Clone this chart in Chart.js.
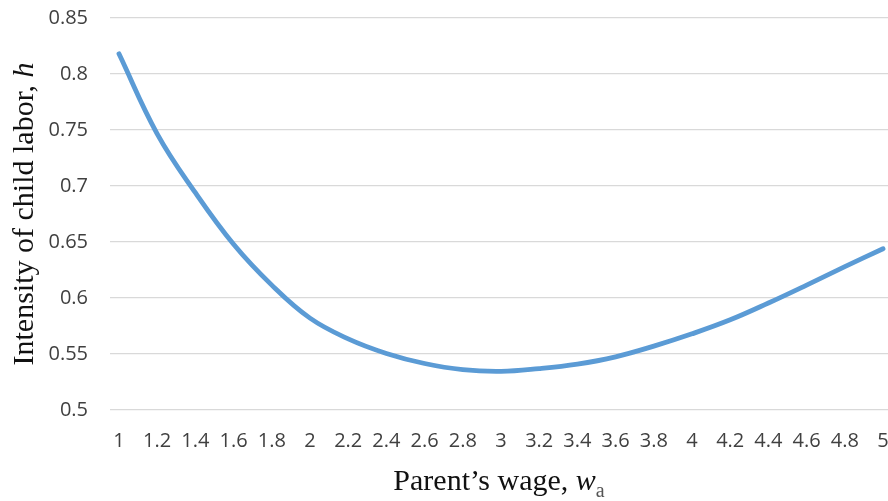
<!DOCTYPE html>
<html>
<head>
<meta charset="utf-8">
<script src="https://cdn.jsdelivr.net/npm/chart.js@4/dist/chart.umd.min.js"></script>
<style>
  html, body { margin: 0; padding: 0; background: #fff; }
  #wrap { width: 888px; height: 501px; }
</style>
</head>
<body>
<div id="wrap"><canvas id="laborchart"></canvas></div>
<script>
// parent's wage w_a and intensity of child labour h
const wages = [1, 1.2, 1.4, 1.6, 1.8, 2, 2.2, 2.4, 2.6, 2.8, 3, 3.2, 3.4, 3.6, 3.8, 4, 4.2, 4.4, 4.6, 4.8, 5];
const intensity = [0.818, 0.7466, 0.694, 0.648, 0.6115, 0.582, 0.5635, 0.5505, 0.5415, 0.536, 0.5345,
                   0.537, 0.541, 0.5475, 0.557, 0.568, 0.5805, 0.5955, 0.6115, 0.628, 0.644];
const xTicks = [1, 1.2, 1.4, 1.6, 1.8, 2, 2.2, 2.4, 2.6, 2.8, 3, 3.2, 3.4, 3.6, 3.8, 4, 4.2, 4.4, 4.6, 4.8, 5];
const yTicks = [0.5, 0.55, 0.6, 0.65, 0.7, 0.75, 0.8, 0.85];

const tickFont = { family: '"Open Sans", sans-serif', size: 20 };
const serif = '"Liberation Serif", "DejaVu Serif", serif';

// axis titles with italic symbols, drawn on the canvas
const axisTitles = {
    id: 'axisTitles',
    afterDraw(chart) {
        const c = chart.ctx;
        const area = chart.chartArea;
        c.save();
        c.fillStyle = '#111';
        c.textBaseline = 'alphabetic';
        c.textAlign = 'left';

        // y title, rotated
        const yMain = 'Intensity of child labor, ';
        c.font = '30px ' + serif;
        const w1 = c.measureText(yMain).width;
        c.font = 'italic 30px ' + serif;
        const w2 = c.measureText('h').width;
        c.save();
        c.translate(33, (area.top + area.bottom) / 2);
        c.rotate(-Math.PI / 2);
        const sx = -(w1 + w2) / 2;
        c.font = '30px ' + serif;
        c.fillText(yMain, sx, 0);
        c.font = 'italic 30px ' + serif;
        c.fillText('h', sx + w1, 0);
        c.restore();

        // x title
        const xMain = 'Parent\u2019s wage, ';
        c.font = '30px ' + serif;
        const a1 = c.measureText(xMain).width;
        c.font = 'italic 30px ' + serif;
        const a2 = c.measureText('w').width;
        c.font = '20px ' + serif;
        const a3 = c.measureText('a').width;
        const x0 = (area.left + area.right) / 2 - (a1 + a2 + a3) / 2;
        const base = 490;
        c.font = '30px ' + serif;
        c.fillText(xMain, x0, base);
        c.font = 'italic 30px ' + serif;
        c.fillText('w', x0 + a1, base);
        c.fillStyle = '#555';
        c.font = '20px ' + serif;
        c.fillText('a', x0 + a1 + a2, base + 7);
        c.restore();
    }
};

const ctx = document.getElementById('laborchart').getContext('2d');
const laborchart = new Chart(ctx, {
    type: 'line',
    data: {
        datasets: [{
            label: 'h',
            data: wages.map((w, i) => ({ x: w, y: intensity[i] })),
            borderColor: '#5b9bd5',
            borderWidth: 4.8,
            borderCapStyle: 'round',
            borderJoinStyle: 'round',
            tension: 0.4,
            pointRadius: 0,
            fill: false
        }]
    },
    options: {
        responsive: true,
        maintainAspectRatio: false,
        animation: false,
        layout: { padding: { top: 18, right: 0, bottom: 0, left: 0 } },
        plugins: {
            legend: { display: false },
            tooltip: { enabled: false }
        },
        scales: {
            x: {
                type: 'linear',
                min: 0.953,
                max: 5.026,
                afterBuildTicks: (scale) => { scale.ticks = xTicks.map(v => ({ value: v })); },
                afterFit: (scale) => {
                    scale.height = 91;
                    scale.paddingLeft = 0;
                    scale.paddingRight = 0;
                },
                grid: { display: false, drawTicks: false },
                border: { display: false },
                ticks: {
                    autoSkip: false,
                    maxRotation: 0,
                    padding: 19,
                    color: '#404040',
                    font: tickFont,
                    callback: (v) => String(Number(v.toFixed(1)))
                }
            },
            y: {
                min: 0.5,
                max: 0.85,
                afterBuildTicks: (scale) => { scale.ticks = yTicks.map(v => ({ value: v })); },
                afterFit: (scale) => {
                    scale.width = 110;
                    scale.paddingTop = 0;
                    scale.paddingBottom = 0;
                },
                grid: { color: '#d9d9d9', lineWidth: 1.2, drawTicks: false },
                border: { display: false },
                ticks: {
                    padding: 22,
                    color: '#404040',
                    font: tickFont,
                    callback: (v) => String(Number(v.toFixed(2)))
                }
            }
        }
    },
    plugins: [axisTitles]
});
</script>
</body>
</html>
